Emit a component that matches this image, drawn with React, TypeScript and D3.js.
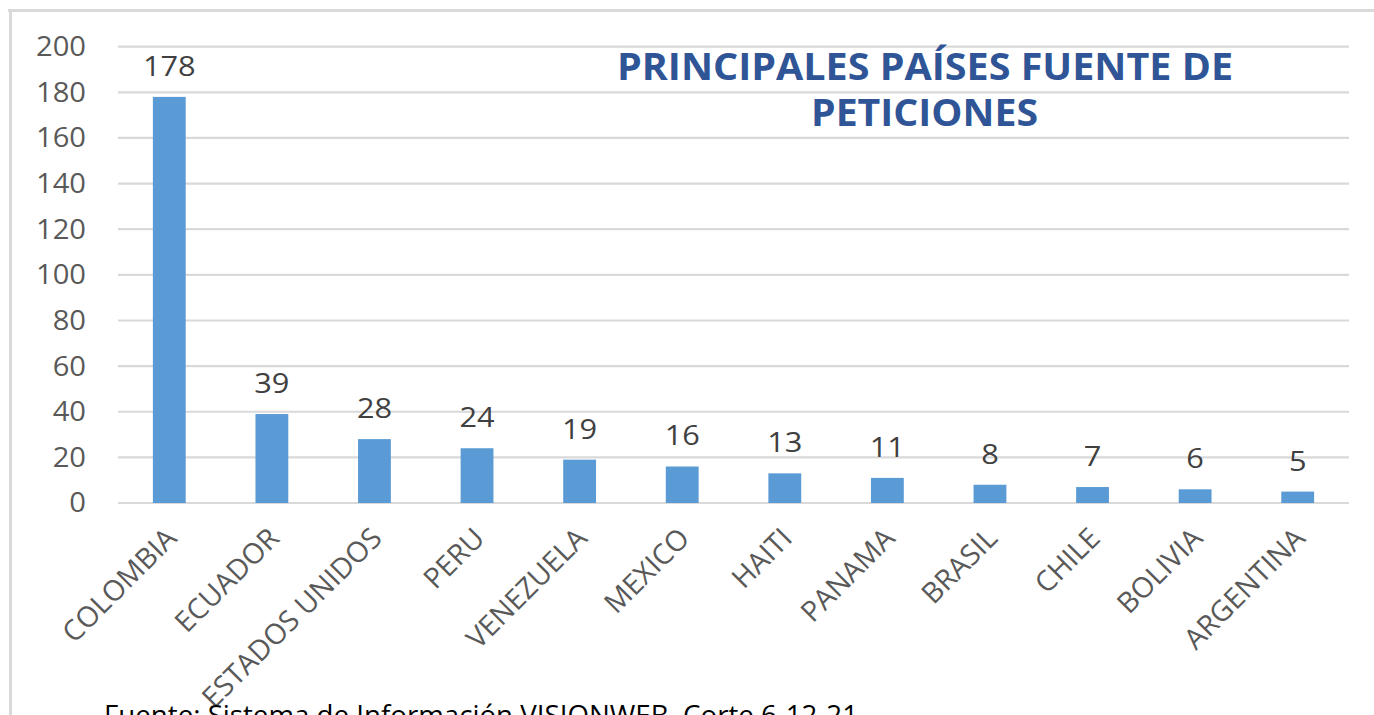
import React from "react";
import * as d3 from "d3";

const categories = ["COLOMBIA", "ECUADOR", "ESTADOS UNIDOS", "PERU", "VENEZUELA", "MEXICO", "HAITI", "PANAMA", "BRASIL", "CHILE", "BOLIVIA", "ARGENTINA"];
const values = [178, 39, 28, 24, 19, 16, 13, 11, 8, 7, 6, 5];
const yTicks = [0, 20, 40, 60, 80, 100, 120, 140, 160, 180, 200];
const titleLines = ["PRINCIPALES PAÍSES FUENTE DE", "PETICIONES"];
const footer = "Fuente: Sistema de Información VISIONWEB. Corte  6-12-21";

const W = 1374;
const H = 715;
const FONT = "'Open Sans', 'Noto Sans', sans-serif";

export default function App() {
  const x = d3.scaleBand<string>().domain(categories).range([118, 1349]).paddingInner(0.68).paddingOuter(0.34);
  const y = d3.scaleLinear().domain([0, 200]).range([503, 46.7]);

  return (
    <svg width={W} height={H} style={{ position: "absolute", left: 0, top: 0, background: "#fff" }}>
      <rect x={0} y={0} width={W} height={H} fill="#fff" />
      {/* chart border */}
      <line x1={8} x2={W} y1={10.5} y2={10.5} stroke="#d9d9d9" strokeWidth={3} />
      <line x1={10.5} x2={10.5} y1={9} y2={H} stroke="#d9d9d9" strokeWidth={3} />

      {/* gridlines */}
      {yTicks.map((t) => (
        <line key={t} x1={118} x2={1349} y1={y(t)} y2={y(t)} stroke="#d9d9d9" strokeWidth={2.2} />
      ))}
      {/* y tick labels */}
      {yTicks.map((t) => (
        <text key={"l" + t} transform={`translate(86 ${y(t)}) scale(1.08 1)`} dy="0.35em" textAnchor="end" fontFamily={FONT} fontSize={27} fill="#595959">
          {t}
        </text>
      ))}

      {/* bars */}
      {categories.map((c, i) => (
        <rect key={c} x={x(c)!} y={y(values[i])} width={x.bandwidth()} height={y(0) - y(values[i])} fill="#5b9bd5" />
      ))}
      {/* data labels */}
      {categories.map((c, i) => (
        <text key={"v" + c} transform={`translate(${x(c)! + x.bandwidth() / 2} ${y(values[i]) - 21}) scale(1.16 1)`} textAnchor="middle" fontFamily={FONT} fontSize={26.5} fill="#404040">
          {values[i]}
        </text>
      ))}

      {/* category labels */}
      {categories.map((c) => {
        const cx = x(c)! + x.bandwidth() / 2 + 2;
        const cy = 533;
        return (
          <text key={"c" + c} x={cx} y={cy} dy="0.35em" textAnchor="end" transform={`rotate(-45 ${cx} ${cy})`} fontFamily={FONT} fontSize={28.5} fill="#595959">
            {c}
          </text>
        );
      })}

      {/* title */}
      <text x={925} y={80} textAnchor="middle" fontFamily={FONT} fontWeight={700} fontSize={38} fill="#2f5597" textLength={616} lengthAdjust="spacingAndGlyphs">
        {titleLines[0]}
      </text>
      <text x={924.5} y={126} textAnchor="middle" fontFamily={FONT} fontWeight={700} fontSize={38} fill="#2f5597" textLength={227} lengthAdjust="spacingAndGlyphs">
        {titleLines[1]}
      </text>

      {/* footer */}
      <text x={104} y={725} fontFamily={FONT} fontSize={27} fill="#000" textLength={754} lengthAdjust="spacingAndGlyphs">
        {footer}
      </text>
    </svg>
  );
}
